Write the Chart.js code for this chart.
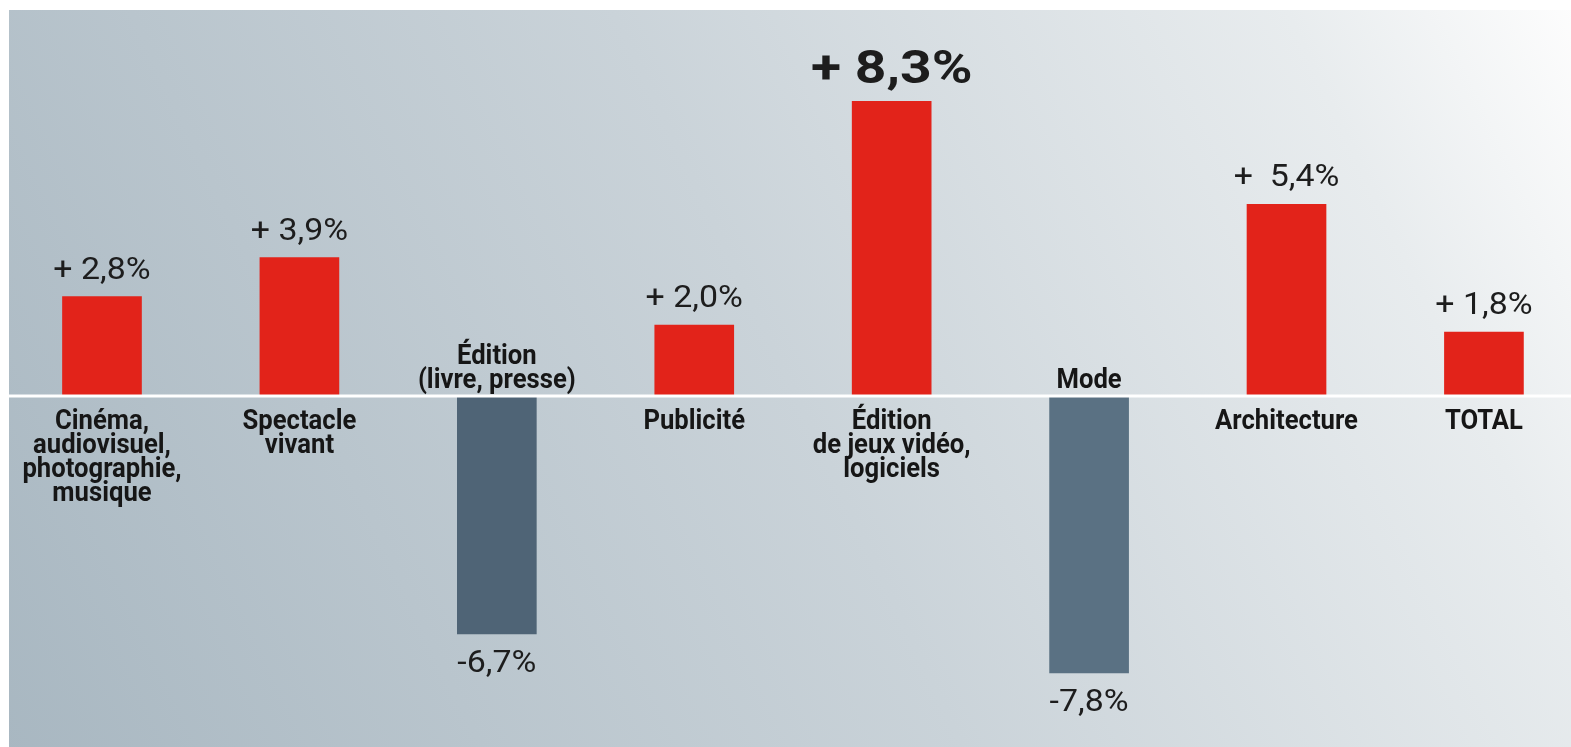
<!DOCTYPE html>
<html><head><meta charset="utf-8">
<script src="https://cdn.jsdelivr.net/npm/chart.js@4"></script>
<style>
html,body{margin:0;padding:0;background:#fff;overflow:hidden}
#wrap{position:absolute;left:0;top:0;width:1571px;height:747px}
</style></head><body>
<div id="wrap"><canvas id="c" width="1571" height="747"></canvas></div>
<script>
// ---- data ----
const categories = [
  ["Cinéma,", "audiovisuel,", "photographie,", "musique"],
  ["Spectacle", "vivant"],
  ["Édition", "(livre, presse)"],
  ["Publicité"],
  ["Édition", "de jeux vidéo,", "logiciels"],
  ["Mode"],
  ["Architecture"],
  ["TOTAL"]
];
const values = [2.8, 3.9, -6.7, 2.0, 8.3, -7.8, 5.4, 1.8];
const valueLabels = ["+ 2,8%", "+ 3,9%", "-6,7%", "+ 2,0%", "+ 8,3%", "-7,8%", "+  5,4%", "+ 1,8%"];
const barColors = ["#e2231a", "#e2231a", "#4f6476", "#e2231a", "#e2231a", "#5a7183", "#e2231a", "#e2231a"];
const highlightIndex = 4;

// ---- plugins ----
const bgPlugin = {
  id: 'bg',
  beforeDraw(chart) {
    const ctx = chart.ctx, w = chart.width, h = chart.height;
    ctx.save();
    ctx.fillStyle = '#ffffff';
    ctx.fillRect(0, 0, w, h);
    const g = ctx.createLinearGradient(0, h, w, 0);
    g.addColorStop(0, '#a8b7c1');
    g.addColorStop(0.5, '#cad3d9');
    g.addColorStop(0.85, '#e8ecee');
    g.addColorStop(1, '#fdfdfd');
    ctx.fillStyle = g;
    ctx.fillRect(9, 10, w - 9, h - 10);
    ctx.restore();
  }
};

function condensed(ctx, text, x, y, sx) {
  ctx.save();
  ctx.translate(x, y);
  ctx.scale(sx, 1);
  ctx.fillText(text, 0, 0);
  ctx.restore();
}

const labelPlugin = {
  id: 'labels',
  afterDatasetsDraw(chart) {
    const ctx = chart.ctx;
    const meta = chart.getDatasetMeta(0);
    const y0 = chart.scales.y.getPixelForValue(0);
    ctx.save();
    ctx.fillStyle = '#ffffff';
    ctx.fillRect(9, y0 - 1.5, chart.width - 9, 3);
    ctx.textAlign = 'center';
    ctx.textBaseline = 'alphabetic';
    meta.data.forEach((bar, i) => {
      const v = values[i];
      const x = bar.x;
      ctx.fillStyle = '#1d1d1d';
      if (i === highlightIndex) {
        ctx.font = 'bold 46px Roboto';
        condensed(ctx, valueLabels[i], x, bar.y - 18, 1.2);
      } else {
        ctx.font = '32px Roboto';
        if (v >= 0) condensed(ctx, valueLabels[i], x, bar.y - 18, 1.06);
        else condensed(ctx, valueLabels[i], x, bar.y + 38, 1.06);
      }
      ctx.fillStyle = '#161616';
      ctx.font = 'bold 27px Roboto';
      const lines = categories[i];
      if (v >= 0) {
        lines.forEach((l, k) => condensed(ctx, l, x, y0 + 33 + k * 24, 0.95));
      } else {
        lines.forEach((l, k) => condensed(ctx, l, x, y0 - 8 - (lines.length - 1 - k) * 24, 0.95));
      }
    });
    ctx.restore();
  }
};

new Chart(document.getElementById('c'), {
  type: 'bar',
  data: {
    datasets: [{
      data: values.map((v, i) => ({ x: i, y: v })),
      backgroundColor: barColors,
      borderWidth: 0,
      barThickness: 79
    }]
  },
  options: {
    responsive: false,
    animation: false,
    layout: { padding: 0 },
    plugins: { legend: { display: false }, tooltip: { enabled: false } },
    scales: {
      x: { type: 'linear', min: -0.5166, max: 7.441, offset: false, display: false },
      y: { min: -9.887, max: 11.155, display: false }
    }
  },
  plugins: [bgPlugin, labelPlugin]
});
</script>
</body></html>
